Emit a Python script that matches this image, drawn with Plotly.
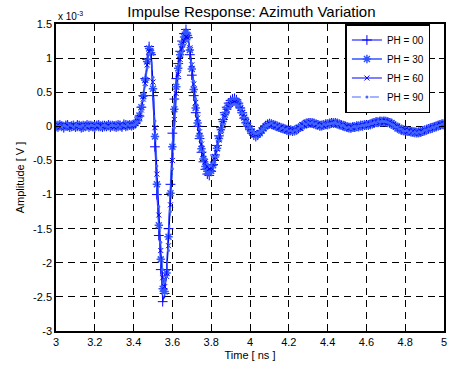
import numpy as np
import plotly.graph_objects as go

# time axis (ns), 0.01 ns sampling from 3.00 to 5.00
time_ns = np.round(np.linspace(3.0, 5.0, 201), 2)

# amplitudes in units of 1e-3 V
ph00 = [
    0.01, -0.01, 0.02, 0.00, -0.02, 0.01, 0.02, -0.01, 0.00, 0.01,
    -0.01, 0.02, 0.00, -0.02, 0.01, 0.00, 0.02, -0.01, 0.01, 0.00,
    -0.02, 0.01, 0.02, 0.00, -0.01, 0.01, 0.00, 0.02, -0.01, 0.01,
    0.00, -0.01, 0.02, 0.01, -0.01, 0.03, 0.00, 0.01, 0.02, 0.01,
    0.02, 0.04, 0.08, 0.15, 0.28, 0.45, 0.70, 0.98, 1.17, 1.05,
    0.45, -0.30, -1.00, -1.60, -2.10, -2.57, -2.45, -2.10, -1.50, -0.85,
    -0.10, 0.40, 0.70, 0.92, 1.10, 1.25, 1.36, 1.42, 1.30, 1.05,
    0.75, 0.45, 0.20, 0.00, -0.18, -0.38, -0.52, -0.63, -0.70, -0.72,
    -0.66, -0.56, -0.42, -0.28, -0.14, -0.02, 0.10, 0.20, 0.28, 0.34,
    0.38, 0.40, 0.41, 0.39, 0.34, 0.27, 0.20, 0.12, 0.05, 0.00,
    -0.05, -0.10, -0.13, -0.15, -0.13, -0.10, -0.06, -0.02, 0.01, 0.03,
    0.04, 0.03, 0.02, 0.01, 0.00, -0.01, -0.02, -0.03, -0.04, -0.05,
    -0.06, -0.06, -0.07, -0.06, -0.05, -0.03, -0.01, 0.01, 0.03, 0.04,
    0.05, 0.05, 0.05, 0.04, 0.03, 0.02, 0.01, 0.01, 0.02, 0.03,
    0.03, 0.04, 0.05, 0.05, 0.05, 0.04, 0.03, 0.02, 0.01, 0.00,
    -0.01, -0.02, -0.02, -0.01, -0.01, 0.00, 0.00, 0.01, 0.01, 0.02,
    0.02, 0.02, 0.03, 0.04, 0.05, 0.06, 0.06, 0.07, 0.07, 0.07,
    0.07, 0.06, 0.05, 0.04, 0.02, 0.00, -0.02, -0.03, -0.05, -0.06,
    -0.06, -0.07, -0.07, -0.08, -0.08, -0.09, -0.09, -0.09, -0.08, -0.07,
    -0.06, -0.05, -0.04, -0.03, -0.02, -0.01, 0.00, 0.01, 0.02, 0.03,
    0.03,
]

ph30 = [
    -0.01, 0.02, 0.00, 0.01, -0.01, 0.02, 0.00, -0.02, 0.01, 0.02,
    0.00, -0.01, 0.02, 0.01, -0.02, 0.01, 0.00, 0.02, 0.00, -0.01,
    0.01, 0.02, -0.01, 0.00, 0.02, -0.01, 0.01, 0.00, 0.02, 0.00,
    0.01, 0.02, -0.01, 0.02, 0.00, 0.01, 0.03, 0.02, 0.01, 0.02,
    0.03, 0.05, 0.09, 0.16, 0.28, 0.44, 0.68, 0.95, 1.14, 1.08,
    0.55, -0.15, -0.85, -1.45, -1.95, -2.38, -2.42, -2.15, -1.62, -0.98,
    -0.30, 0.25, 0.58, 0.85, 1.05, 1.20, 1.31, 1.38, 1.33, 1.12,
    0.84, 0.54, 0.27, 0.05, -0.14, -0.33, -0.48, -0.59, -0.66, -0.68,
    -0.65, -0.57, -0.45, -0.32, -0.18, -0.05, 0.07, 0.17, 0.25, 0.31,
    0.35, 0.37, 0.38, 0.37, 0.33, 0.27, 0.20, 0.13, 0.06, 0.01,
    -0.04, -0.08, -0.11, -0.13, -0.12, -0.10, -0.06, -0.03, 0.00, 0.02,
    0.03, 0.04, 0.03, 0.01, 0.00, -0.02, -0.03, -0.03, -0.05, -0.06,
    -0.07, -0.05, -0.06, -0.07, -0.04, -0.02, -0.02, 0.02, 0.02, 0.05,
    0.04, 0.06, 0.04, 0.05, 0.02, 0.03, 0.00, 0.02, 0.01, 0.04,
    0.02, 0.05, 0.04, 0.06, 0.04, 0.05, 0.02, 0.03, 0.00, 0.01,
    -0.02, -0.01, -0.03, 0.00, -0.02, 0.01, -0.01, 0.02, 0.00, 0.03,
    0.01, 0.03, 0.02, 0.05, 0.04, 0.07, 0.05, 0.08, 0.06, 0.08,
    0.06, 0.07, 0.04, 0.05, 0.01, 0.01, -0.03, -0.02, -0.06, -0.05,
    -0.07, -0.06, -0.08, -0.07, -0.09, -0.08, -0.10, -0.08, -0.09, -0.06,
    -0.07, -0.04, -0.05, -0.02, -0.03, 0.00, -0.01, 0.02, 0.01, 0.04,
    0.02,
]

ph60 = [
    0.00, 0.02, -0.01, 0.01, 0.02, -0.01, 0.01, 0.00, -0.01, 0.02,
    0.01, 0.00, -0.02, 0.01, 0.02, 0.00, -0.01, 0.01, 0.02, 0.00,
    0.01, -0.01, 0.02, 0.01, 0.00, 0.02, -0.01, 0.01, 0.00, 0.02,
    -0.01, 0.01, 0.00, 0.02, 0.01, -0.01, 0.02, 0.00, 0.02, 0.01,
    0.02, 0.04, 0.07, 0.13, 0.24, 0.40, 0.63, 0.90, 1.10, 1.10,
    0.65, -0.02, -0.70, -1.30, -1.82, -2.22, -2.35, -2.20, -1.75, -1.15,
    -0.50, 0.10, 0.48, 0.76, 0.98, 1.14, 1.25, 1.31, 1.30, 1.15,
    0.90, 0.62, 0.35, 0.12, -0.08, -0.26, -0.41, -0.52, -0.59, -0.62,
    -0.61, -0.55, -0.45, -0.33, -0.20, -0.08, 0.04, 0.14, 0.22, 0.28,
    0.32, 0.34, 0.35, 0.34, 0.31, 0.26, 0.20, 0.13, 0.07, 0.02,
    -0.03, -0.07, -0.10, -0.12, -0.11, -0.09, -0.06, -0.03, 0.00, 0.02,
    0.04, 0.02, 0.03, 0.00, 0.01, -0.02, -0.01, -0.04, -0.03, -0.06,
    -0.05, -0.07, -0.06, -0.05, -0.06, -0.02, -0.03, 0.02, 0.01, 0.05,
    0.03, 0.06, 0.04, 0.04, 0.02, 0.03, 0.00, 0.02, 0.01, 0.02,
    0.04, 0.03, 0.06, 0.04, 0.06, 0.03, 0.04, 0.01, 0.02, -0.01,
    0.00, -0.03, -0.01, -0.02, 0.01, -0.01, 0.01, 0.00, 0.02, 0.01,
    0.03, 0.01, 0.04, 0.03, 0.06, 0.05, 0.07, 0.06, 0.08, 0.06,
    0.08, 0.05, 0.06, 0.03, 0.03, -0.01, 0.00, -0.04, -0.04, -0.07,
    -0.05, -0.08, -0.06, -0.09, -0.07, -0.10, -0.08, -0.10, -0.07, -0.08,
    -0.05, -0.06, -0.03, -0.04, -0.01, -0.02, 0.01, 0.00, 0.03, 0.02,
    0.04,
]

ph90 = [
    0.02, 0.00, 0.01, -0.01, 0.02, 0.00, -0.01, 0.02, 0.01, -0.01,
    0.02, 0.01, -0.01, 0.00, 0.02, -0.02, 0.01, 0.00, 0.02, 0.01,
    0.00, 0.02, 0.01, -0.02, 0.01, 0.02, 0.00, -0.01, 0.01, 0.02,
    0.01, 0.00, 0.02, -0.01, 0.02, 0.01, 0.00, 0.03, 0.01, 0.02,
    0.02, 0.04, 0.07, 0.12, 0.22, 0.38, 0.60, 0.86, 1.06, 1.09,
    0.72, 0.08, -0.58, -1.18, -1.70, -2.10, -2.28, -2.20, -1.82, -1.25,
    -0.62, -0.02, 0.40, 0.70, 0.92, 1.08, 1.19, 1.25, 1.26, 1.14,
    0.92, 0.66, 0.40, 0.16, -0.04, -0.22, -0.37, -0.48, -0.55, -0.58,
    -0.58, -0.53, -0.44, -0.33, -0.21, -0.09, 0.03, 0.12, 0.20, 0.26,
    0.30, 0.32, 0.33, 0.32, 0.30, 0.25, 0.19, 0.13, 0.07, 0.02,
    -0.02, -0.06, -0.09, -0.11, -0.10, -0.08, -0.06, -0.03, 0.00, 0.02,
    0.03, 0.05, 0.02, 0.02, -0.01, 0.01, -0.03, -0.02, -0.05, -0.04,
    -0.07, -0.06, -0.08, -0.05, -0.06, -0.03, 0.00, 0.00, 0.04, 0.03,
    0.06, 0.04, 0.06, 0.03, 0.04, 0.01, 0.02, 0.00, 0.03, 0.02,
    0.04, 0.03, 0.05, 0.04, 0.06, 0.03, 0.04, 0.01, 0.02, -0.01,
    -0.02, -0.01, -0.03, -0.01, 0.00, -0.02, 0.01, 0.00, 0.02, 0.01,
    0.03, 0.02, 0.04, 0.04, 0.06, 0.05, 0.08, 0.06, 0.08, 0.07,
    0.07, 0.06, 0.05, 0.03, 0.02, -0.01, -0.01, -0.04, -0.04, -0.07,
    -0.07, -0.06, -0.09, -0.07, -0.10, -0.08, -0.10, -0.08, -0.09, -0.08,
    -0.05, -0.06, -0.03, -0.04, -0.01, -0.02, 0.01, 0.00, 0.02, 0.03,
    0.04,
]

series_names = ["PH = 00", "PH = 30", "PH = 60", "PH = 90"]
y_ticks = [-3, -2.5, -2, -1.5, -1, -0.5, 0, 0.5, 1, 1.5]
y_tick_labels = ["-3", "-2.5", "-2", "-1.5", "-1", "-0.5", "0", "0.5", "1", "1.5"]
x_ticks = [3, 3.2, 3.4, 3.6, 3.8, 4, 4.2, 4.4, 4.6, 4.8, 5]
x_tick_labels = ["3", "3.2", "3.4", "3.6", "3.8", "4", "4.2", "4.4", "4.6", "4.8", "5"]

styles = [
    dict(line=dict(color="#0000ff", width=1), marker=dict(symbol="cross-thin", size=7, line=dict(color="#0000ff", width=1))),
    dict(line=dict(color="#3355ff", width=1.5), marker=dict(symbol="asterisk", size=7, line=dict(color="#3355ff", width=1.5))),
    dict(line=dict(color="#0000ff", width=1), marker=dict(symbol="x-thin", size=5, line=dict(color="#0000ff", width=1))),
    dict(line=dict(color="#4466ff", width=1, dash="dash"), marker=dict(symbol="circle", size=3, color="#4466ff")),
]

fig = go.Figure()
for name, vals, st in zip(series_names, [ph00, ph30, ph60, ph90], styles):
    fig.add_trace(go.Scatter(x=time_ns, y=vals, mode="lines+markers", name=name,
                             line=st["line"], marker=st["marker"]))

axis_common = dict(
    showline=True, linecolor="black", linewidth=1.5, mirror="ticks",
    ticks="inside", ticklen=5, tickcolor="black",
    showgrid=True, gridcolor="black", gridwidth=1, griddash="7px,5px",
    zeroline=False, tickfont=dict(family="Liberation Sans, Arial", size=11, color="black"),
)

fig.update_layout(
    width=449, height=368,
    margin=dict(l=56, r=3, t=24, b=37),
    paper_bgcolor="white", plot_bgcolor="white",
    font=dict(family="Liberation Sans, Arial", color="black"),
    title=dict(text="Impulse Response: Azimuth Variation", x=0.56, xanchor="center",
               y=0.967, yanchor="middle", font=dict(size=15)),
    xaxis=dict(range=[3, 5], tickvals=x_ticks, ticktext=x_tick_labels,
               title=dict(text="Time [ ns ]", font=dict(size=11), standoff=4), **axis_common),
    yaxis=dict(range=[-3, 1.5], tickvals=y_ticks, ticktext=y_tick_labels,
               title=dict(text="Amplitude [ V ]", font=dict(size=11), standoff=6), **axis_common),
    legend=dict(x=0.965, y=1.0, xanchor="right", yanchor="top", bgcolor="white",
                bordercolor="black", borderwidth=1.5, font=dict(size=10),
                tracegroupgap=0, itemwidth=30),
    showlegend=True,
)

fig.add_annotation(text="x 10<sup>-3</sup>", xref="paper", yref="paper", x=0.0, y=1.0,
                   xanchor="left", yanchor="bottom", showarrow=False, font=dict(size=10))

fig.write_html("out.html")
